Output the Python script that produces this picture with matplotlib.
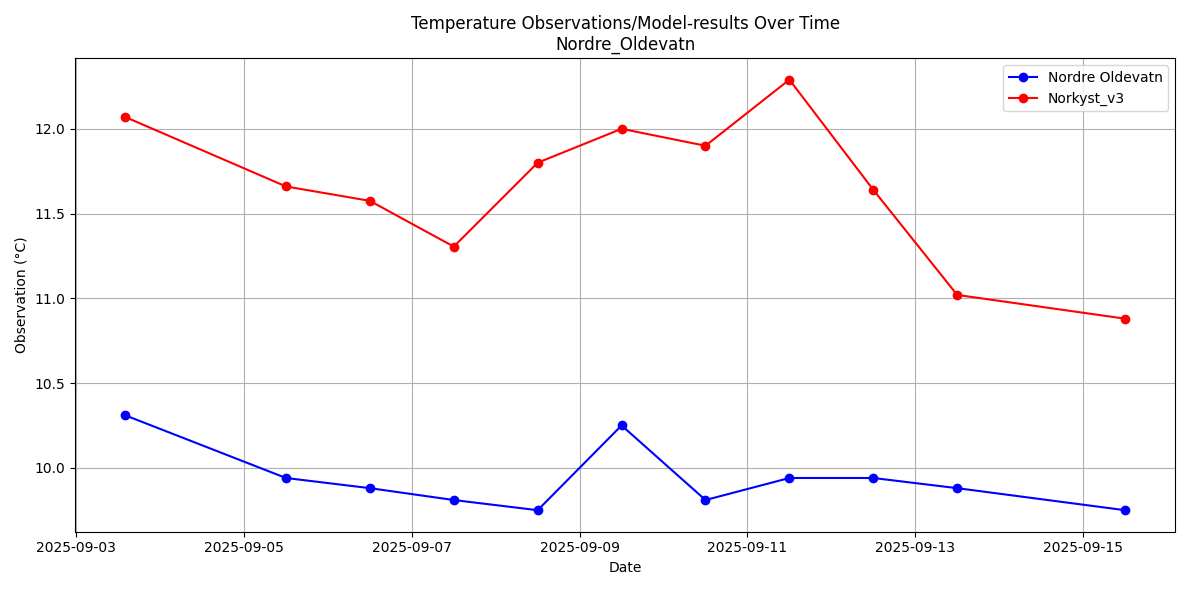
import matplotlib
matplotlib.use("Agg")
import matplotlib.pyplot as plt
import pandas as pd

dates = pd.to_datetime(["2025-09-03 14:00", "2025-09-05 12:00", "2025-09-06 12:00", "2025-09-07 12:00",
                        "2025-09-08 12:00", "2025-09-09 12:00", "2025-09-10 12:00", "2025-09-11 12:00",
                        "2025-09-12 12:00", "2025-09-13 12:00", "2025-09-15 12:00"])
obs = [10.31, 9.94, 9.88, 9.81, 9.75, 10.25, 9.81, 9.94, 9.94, 9.88, 9.75]
model_vals = [12.07, 11.66, 11.575, 11.305, 11.80, 12.00, 11.90, 12.29, 11.64, 11.02, 10.88]

fig, ax = plt.subplots(figsize=(11.9, 5.9), dpi=100)
ax.plot(dates, obs, marker='o', color='blue', label='Nordre Oldevatn')
ax.plot(dates, model_vals, marker='o', color='red', label='Norkyst_v3')
ax.set_title("Temperature Observations/Model-results Over Time\nNordre_Oldevatn")
ax.set_xlabel("Date")
ax.set_ylabel("Observation (°C)")
ax.grid(True)
ax.legend(loc='upper right')
plt.tight_layout()
plt.savefig("out.png")
